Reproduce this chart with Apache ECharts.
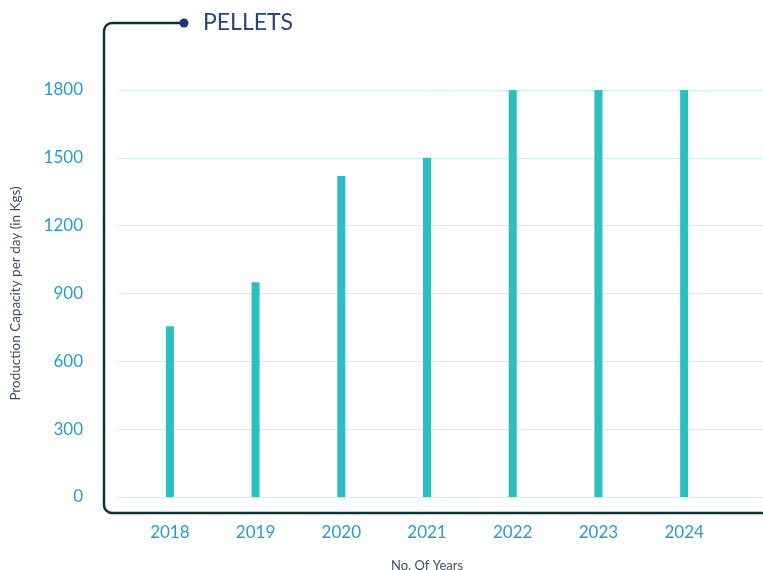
<!DOCTYPE html>
<html><head><meta charset="utf-8">
<script src="https://cdn.jsdelivr.net/npm/echarts@6/dist/echarts.min.js"></script>
<style>html,body{margin:0;padding:0;background:#fff}#c{width:763px;height:570px}</style>
</head><body><div id="c"></div>
<script>
const title = 'PELLETS';
const years = ['2018','2019','2020','2021','2022','2023','2024'];
const capacity = [755, 950, 1420, 1500, 1800, 1800, 1800];
const yMin = 0, yMax = 1800, yStep = 300;
const xName = 'No. Of Years';
const yName = 'Production Capacity per day (in Kgs)';

const font = 'Lato, "Noto Sans", sans-serif';
const frameStyle = {stroke: '#0b3535', lineWidth: 2.5, fill: null};
const chart = echarts.init(document.getElementById('c'));
chart.setOption({
  animation: false,
  backgroundColor: '#fff',
  grid: [
    {left: 127, width: 600, top: 90, bottom: 73, containLabel: false, outerBoundsMode: 'none'},
    {left: 118, right: 0, top: 90, bottom: 73, containLabel: false, outerBoundsMode: 'none'}
  ],
  xAxis: [
    {type: 'category', gridIndex: 0, data: years,
     axisLine: {show: false}, axisTick: {show: false},
     axisLabel: {color: '#2a9ad6', fontSize: 17, fontFamily: font, margin: 27},
     name: xName, nameLocation: 'middle', nameGap: 62,
     nameTextStyle: {color: '#3d4f6b', fontSize: 13, fontFamily: font}},
    {type: 'value', gridIndex: 1, show: false, min: 0, max: 1}
  ],
  yAxis: [
    {type: 'value', gridIndex: 0, min: yMin, max: yMax, interval: yStep, show: false},
    {type: 'value', gridIndex: 1, min: yMin, max: yMax, interval: yStep,
     axisLine: {show: false}, axisTick: {show: false},
     axisLabel: {color: '#2a9ad6', fontSize: 17, fontFamily: font, margin: 35,
                 formatter: v => String(v)},
     splitLine: {lineStyle: {color: '#d2f1f4', width: 1}},
     name: yName, nameLocation: 'middle', nameGap: 95,
     nameTextStyle: {color: '#3d4f6b', fontSize: 13.5, fontFamily: font}}
  ],
  series: [{
    type: 'bar', xAxisIndex: 0, yAxisIndex: 0, data: capacity,
    barWidth: 8, itemStyle: {color: '#2bbfc2'}
  }],
  graphic: [
    {type: 'line', z: 10, shape: {x1: 184, y1: 23, x2: 112, y2: 23}, style: frameStyle},
    {type: 'arc', z: 10, shape: {cx: 112, cy: 31, r: 8, startAngle: Math.PI, endAngle: Math.PI * 1.5, clockwise: true}, style: frameStyle},
    {type: 'line', z: 10, shape: {x1: 104, y1: 31, x2: 104, y2: 505}, style: frameStyle},
    {type: 'arc', z: 10, shape: {cx: 112, cy: 505, r: 8, startAngle: Math.PI / 2, endAngle: Math.PI, clockwise: true}, style: frameStyle},
    {type: 'line', z: 10, shape: {x1: 112, y1: 513, x2: 763, y2: 513}, style: frameStyle},
    {type: 'circle', z: 11, shape: {cx: 184, cy: 23, r: 4.5}, style: {fill: '#1b3a6b'}},
    {type: 'text', z: 11, left: 203, top: 11, style: {text: title, fill: '#2a4673', font: '23px ' + font}}
  ]
});
</script></body></html>
